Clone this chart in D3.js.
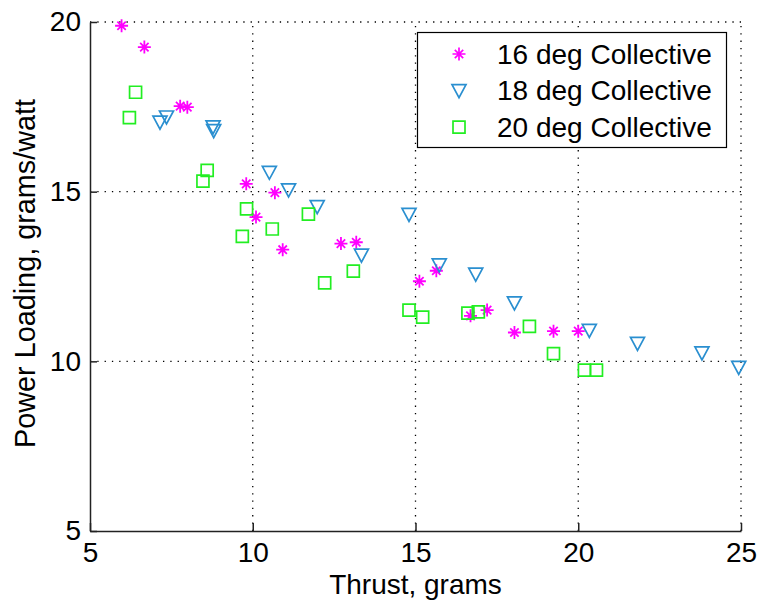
<!DOCTYPE html>
<html>
<head>
<meta charset="utf-8">
<script src="https://cdn.jsdelivr.net/npm/d3@7"></script>
<style>
  html, body { margin: 0; padding: 0; background: #fff; }
  svg { display: block; }
  text { font-family: "Liberation Sans", Arial, Helvetica, sans-serif; fill: #000; }
</style>
</head>
<body>
<svg id="chart" width="757" height="602"></svg>
<script>
// Thrust (grams) and power loading (grams/watt) for three collective pitch settings
const thrust16 = [5.97, 6.67, 7.77, 7.99, 9.80, 10.68, 10.10, 10.92, 12.71, 13.18, 15.12, 15.64, 16.69, 17.20, 18.04, 19.24, 20.00];
const loading16 = [19.89, 19.26, 17.52, 17.49, 15.23, 14.97, 14.25, 13.29, 13.47, 13.51, 12.36, 12.67, 11.34, 11.51, 10.85, 10.89, 10.89];

const thrust18 = [7.15, 7.35, 8.78, 8.80, 10.51, 11.10, 11.98, 13.34, 14.80, 15.73, 16.85, 18.04, 20.34, 21.82, 23.80, 24.93];
const loading18 = [17.05, 17.20, 16.91, 16.80, 15.57, 15.05, 14.56, 13.13, 14.33, 12.84, 12.57, 11.72, 10.91, 10.53, 10.25, 9.82];

const thrust20 = [6.21, 6.40, 8.47, 8.60, 9.68, 9.81, 10.60, 11.71, 12.21, 13.09, 14.80, 15.22, 16.61, 16.93, 18.50, 19.24, 20.19, 20.56];
const loading20 = [17.18, 17.93, 15.31, 15.63, 13.68, 14.49, 13.90, 14.34, 12.31, 12.66, 11.51, 11.30, 11.42, 11.46, 11.03, 10.23, 9.74, 9.74];

const seriesNames = ["16 deg Collective", "18 deg Collective", "20 deg Collective"];
const xTicks = [5, 10, 15, 20, 25];
const yTicks = [5, 10, 15, 20];
const xTitle = "Thrust, grams";
const yTitle = "Power Loading, grams/watt";

const series = [
  { name: seriesNames[0], xs: thrust16, ys: loading16, marker: "star", color: "#ff00ff" },
  { name: seriesNames[1], xs: thrust18, ys: loading18, marker: "tri", color: "#2a8fd0" },
  { name: seriesNames[2], xs: thrust20, ys: loading20, marker: "square", color: "#22ee22" }
];

const margin = { left: 90, right: 16, top: 22, bottom: 71 };
const W = 757, H = 602;
const svg = d3.select("#chart");
svg.append("rect").attr("width", W).attr("height", H).attr("fill", "#fff");

const x = d3.scaleLinear().domain([5, 25]).range([margin.left, W - margin.right]);
const y = d3.scaleLinear().domain([5, 20]).range([H - margin.bottom, margin.top]);

// dotted grid
const grid = svg.append("g").attr("stroke", "#000").attr("stroke-width", 1.3)
  .attr("stroke-dasharray", "1.3 6").attr("fill", "none");
grid.selectAll("line.gx").data(xTicks.slice(1)).join("line")
  .attr("x1", d => x(d)).attr("x2", d => x(d))
  .attr("y1", y(5)).attr("y2", y(20));
grid.selectAll("line.gy").data(yTicks.slice(1)).join("line")
  .attr("y1", d => y(d)).attr("y2", d => y(d))
  .attr("x1", x(5)).attr("x2", x(25));

// axes with inward ticks
const fontSize = 28;
const xAxis = svg.append("g").attr("transform", `translate(0,${y(5)})`)
  .call(d3.axisBottom(x).tickValues(xTicks).tickSizeInner(-8).tickSizeOuter(0).tickPadding(11).tickFormat(d3.format("d")));
const yAxis = svg.append("g").attr("transform", `translate(${x(5)},0)`)
  .call(d3.axisLeft(y).tickValues(yTicks).tickSizeInner(-7).tickSizeOuter(0).tickPadding(9).tickFormat(d3.format("d")));
[xAxis, yAxis].forEach(a => {
  a.attr("font-family", null);
  a.select(".domain").attr("stroke", "#222").attr("stroke-width", 1.5);
  a.selectAll(".tick line").attr("stroke", "#222").attr("stroke-width", 1.5);
  a.selectAll(".tick text").attr("font-size", fontSize).attr("fill", "#000");
});

svg.append("text").attr("x", (x(5) + x(25)) / 2).attr("y", 594)
  .attr("text-anchor", "middle").attr("font-size", fontSize).text(xTitle);
svg.append("text")
  .attr("transform", `translate(35,${(y(5) + y(20)) / 2 - 3}) rotate(-90)`)
  .attr("text-anchor", "middle").attr("font-size", 28.8).text(yTitle);

// marker shapes
function markerPath(type) {
  if (type === "star") {
    const r = 6.5, d = 4.2;
    return `M${-r},0H${r}M0,${-r}V${r}M${-d},${-d}L${d},${d}M${-d},${d}L${d},${-d}`;
  }
  if (type === "tri") {
    return "M-7,-6H7L0,7Z";
  }
  return "M-6,-6H6V6H-6Z";
}

const plot = svg.append("g");
series.forEach(s => {
  const pts = s.xs.map((v, i) => [v, s.ys[i]]);
  plot.append("g").selectAll("path").data(pts).join("path")
    .attr("transform", d => `translate(${x(d[0])},${y(d[1])})`)
    .attr("d", markerPath(s.marker))
    .attr("fill", "none")
    .attr("stroke", s.color)
    .attr("stroke-width", s.marker === "star" ? 1.8 : 1.7);
});

// legend
const lg = svg.append("g");
lg.append("rect").attr("x", 417.5).attr("y", 32.5).attr("width", 309).attr("height", 115)
  .attr("fill", "#fff").attr("stroke", "#000").attr("stroke-width", 1.2);
series.forEach((s, i) => {
  const cy = 54 + i * 36.6;
  lg.append("path").attr("transform", `translate(459,${cy})`)
    .attr("d", markerPath(s.marker)).attr("fill", "none")
    .attr("stroke", s.color).attr("stroke-width", 1.7);
  lg.append("text").attr("x", 497).attr("y", cy).attr("dy", "0.35em")
    .attr("font-size", fontSize).text(s.name);
});
</script>
</body>
</html>
